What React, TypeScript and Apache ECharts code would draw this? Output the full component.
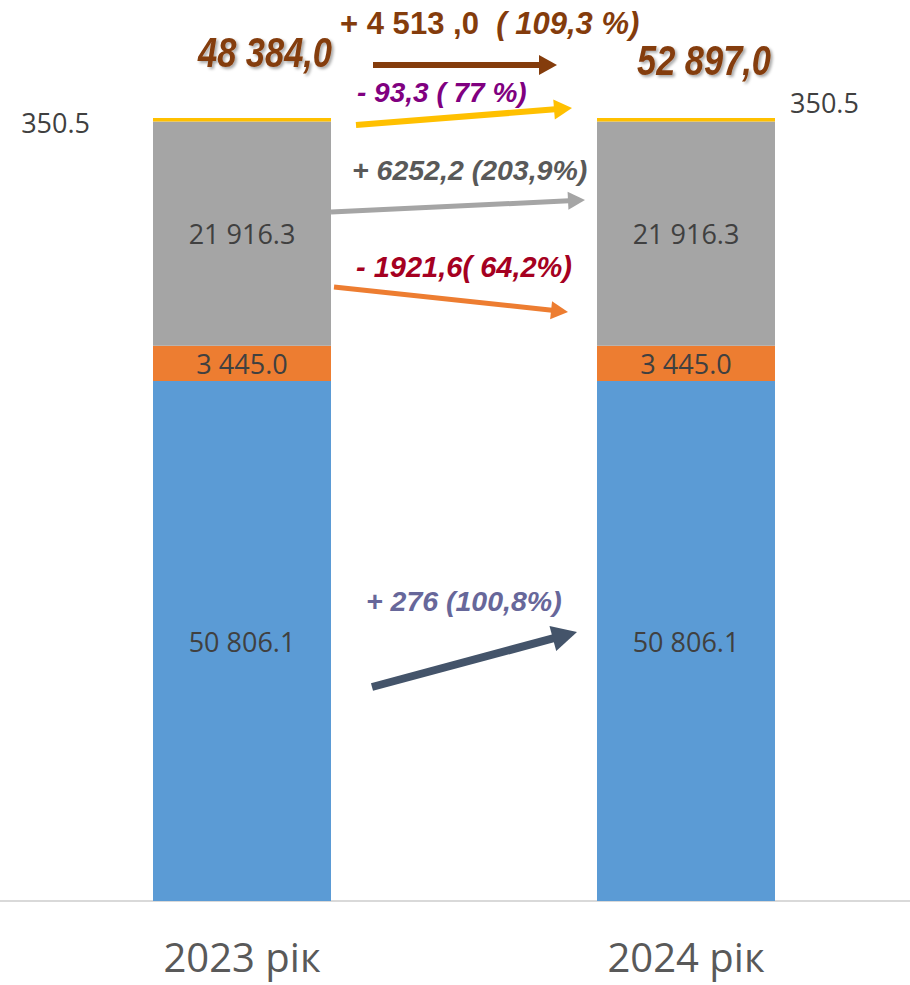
import React, { useEffect, useRef } from "react";
import * as echarts from "echarts";

const categories = ["2023 рік", "2024 рік"];
const blueValues = [50806.1, 50806.1];
const orangeValues = [3445.0, 3445.0];
const grayValues = [21916.3, 21916.3];
const yellowValues = [350.5, 350.5];

const totalLeft = "48 384,0";
const totalRight = "52 897,0";
const totalChange = "+ 4 513 ,0  ";
const totalChangePct = "( 109,3 %)";
const yellowChange = "- 93,3 ( 77 %)";
const grayChange = "+ 6252,2 (203,9%)";
const orangeChange = "- 1921,6( 64,2%)";
const blueChange = "+ 276 (100,8%)";

function fmt(v: number): string {
  const [i, d] = v.toFixed(1).split(".");
  return i.replace(/\B(?=(\d{3})+(?!\d))/g, " ") + "." + d;
}

function arrow(x1: number, y1: number, x2: number, y2: number, color: string, w: number, hl: number, hw: number) {
  const dx = x2 - x1, dy = y2 - y1;
  const L = Math.hypot(dx, dy);
  const ux = dx / L, uy = dy / L;
  const bx = x2 - ux * hl, by = y2 - uy * hl;
  const px = -uy, py = ux;
  return [
    { type: "line", z: 10, shape: { x1, y1, x2: bx + ux, y2: by + uy }, style: { stroke: color, lineWidth: w } },
    {
      type: "polygon",
      z: 10,
      shape: { points: [[x2, y2], [bx + px * hw, by + py * hw], [bx - px * hw, by - py * hw]] },
      style: { fill: color },
    },
  ];
}

const annoFont = "Liberation Sans, Arial, sans-serif";

export default function App() {
  const ref = useRef<HTMLDivElement>(null);
  useEffect(() => {
    if (!ref.current) return;
    const chart = echarts.init(ref.current, null, { renderer: "svg" });
    const maxVal = blueValues[0] + orangeValues[0] + grayValues[0] + yellowValues[0];
    const lbl = { show: true, position: "inside", fontFamily: "Open Sans", fontSize: 27, color: "#404040", formatter: (p: any) => fmt(p.value) };
    const italicText = (text: string, x: number, y: number, color: string, size: number, scaleX = 1) => ({
      type: "text",
      z: 10,
      x,
      y,
      scaleX,
      style: {
        text,
        x: 0,
        y: 0,
        textAlign: "left",
        textVerticalAlign: "middle",
        fill: color,
        fontFamily: annoFont,
        fontWeight: "bold",
        fontStyle: "italic",
        fontSize: size,
      },
    });
    const option: any = {
      animation: false,
      grid: { left: 20, right: 2, top: 118, bottom: 84 },
      xAxis: {
        type: "category",
        data: categories,
        axisLine: { show: false },
        axisTick: { show: false },
        axisLabel: { fontFamily: "Open Sans", fontSize: 40, lineHeight: 40, color: "#595959", margin: 35 },
      },
      yAxis: { type: "value", show: false, min: 0, max: maxVal, splitLine: { show: false } },
      series: [
        { type: "bar", stack: "s", barWidth: 178, data: blueValues, itemStyle: { color: "#5b9bd5" }, label: lbl },
        { type: "bar", stack: "s", data: orangeValues, itemStyle: { color: "#ed7d31" }, label: lbl },
        { type: "bar", stack: "s", data: grayValues, itemStyle: { color: "#a5a5a5" }, label: lbl },
        {
          type: "bar",
          stack: "s",
          data: yellowValues.map((v, i) => ({
            value: v,
            label:
              i === 0
                ? { show: true, position: "left", distance: 63, offset: [0, 3] }
                : { show: true, position: "right", distance: 15, offset: [0, -17] },
          })),
          itemStyle: { color: "#ffc000" },
          label: { fontFamily: "Open Sans", fontSize: 27, color: "#404040", formatter: (p: any) => fmt(p.value) },
        },
      ],
      graphic: [
        { type: "line", shape: { x1: 0, y1: 901, x2: 910, y2: 901 }, style: { stroke: "#d9d9d9", lineWidth: 2 } },
        {
          type: "text",
          z: 10,
          x: 340,
          y: 23,
          scaleX: 0.97,
          style: {
            text: "{a|" + totalChange + "}{b|" + totalChangePct + "}",
            x: 0,
            y: 0,
            textAlign: "left",
            textVerticalAlign: "middle",
            rich: {
              a: { fontFamily: annoFont, fontWeight: "bold", fontSize: 32, fill: "#843c0c", color: "#843c0c" },
              b: { fontFamily: annoFont, fontWeight: "bold", fontStyle: "italic", fontSize: 32, fill: "#843c0c", color: "#843c0c" },
            },
          },
        },
        {
          type: "text",
          z: 10,
          x: 265,
          y: 52,
          scaleX: 0.82,
          style: {
            text: totalLeft,
            x: 0,
            y: 0,
            textAlign: "center",
            textVerticalAlign: "middle",
            fill: "#843c0c",
            fontFamily: annoFont,
            fontWeight: "bold",
            fontStyle: "italic",
            fontSize: 42,
            textShadowColor: "rgba(0,0,0,0.35)",
            textShadowBlur: 3,
            textShadowOffsetX: 2,
            textShadowOffsetY: 2,
          },
        },
        {
          type: "text",
          z: 10,
          x: 704,
          y: 60,
          scaleX: 0.82,
          style: {
            text: totalRight,
            x: 0,
            y: 0,
            textAlign: "center",
            textVerticalAlign: "middle",
            fill: "#843c0c",
            fontFamily: annoFont,
            fontWeight: "bold",
            fontStyle: "italic",
            fontSize: 42,
            textShadowColor: "rgba(0,0,0,0.35)",
            textShadowBlur: 3,
            textShadowOffsetX: 2,
            textShadowOffsetY: 2,
          },
        },
        italicText(yellowChange, 357, 92, "#800080", 28),
        italicText(grayChange, 352, 170, "#595959", 28.5),
        italicText(orangeChange, 356, 267, "#a50021", 29),
        italicText(blueChange, 366, 601, "#67679a", 28.5),
        ...arrow(373, 65, 557, 65, "#843c0c", 6, 18, 10),
        ...arrow(356, 125, 572, 108, "#ffc000", 6, 18, 10),
        ...arrow(331, 212, 585, 200, "#a5a5a5", 5, 17, 9),
        ...arrow(334, 287, 568, 312, "#ed7d31", 5, 17, 9),
        ...arrow(372, 687, 577, 632, "#44546a", 8, 25, 13),
      ],
    };
    chart.setOption(option);
    return () => chart.dispose();
  }, []);
  return <div ref={ref} style={{ position: "absolute", left: 0, top: 0, width: 910, height: 985 }} />;
}
